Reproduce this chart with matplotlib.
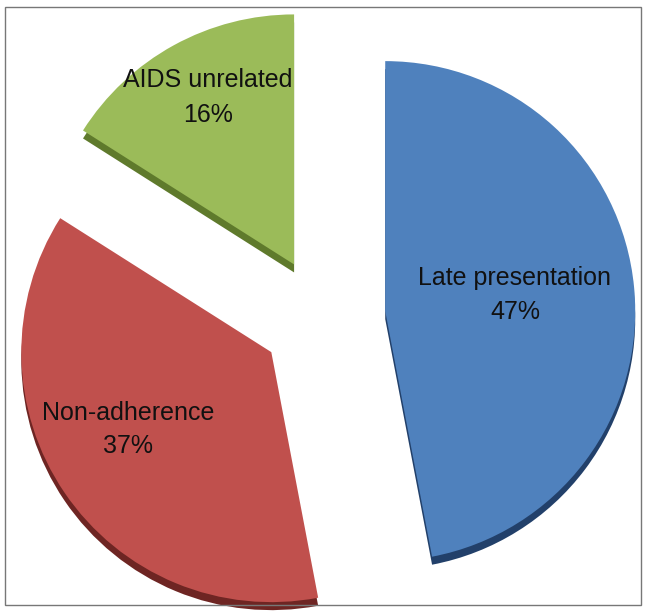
import matplotlib.pyplot as plt
from matplotlib.patches import Rectangle

labels = ["Late presentation", "Non-adherence", "AIDS unrelated"]
shares = [47, 37, 16]
colors = ["#4F81BD", "#C0504D", "#9BBB59"]
side_colors = ["#22406A", "#6E2523", "#5F7A2C"]

W, H = 646, 611
CX, CY = 323, H - 317
R = 250
DEPTH = 8

# matplotlib takes the explode offset in data units here (radius is in pixels)
explode = [0.25 * R, 0.25 * R, 0.24 * R]

fig = plt.figure(figsize=(W / 100, H / 100), dpi=100)
ax = fig.add_axes([0, 0, 1, 1])

# dark "thickness" of the 3D pie, drawn a little lower underneath
ax.pie(shares, colors=side_colors, explode=explode, startangle=90,
       counterclock=False, radius=R, center=(CX, CY - DEPTH),
       wedgeprops=dict(linewidth=0), frame=True)

ax.pie(shares, colors=colors, explode=explode, startangle=90,
       counterclock=False, radius=R, center=(CX, CY),
       wedgeprops=dict(linewidth=0), frame=True)

ax.set_xlim(0, W)
ax.set_ylim(0, H)
ax.axis("off")

font = dict(family="Liberation Sans", fontsize=18, ha="center", va="center", color="#111111")
label_pos = [(515, 278, 312), (128, 413, 446), (208, 80, 115)]
for name, val, (x, y1, y2) in zip(labels, shares, label_pos):
    ax.text(x, H - y1, name, **font)
    ax.text(x, H - y2, f"{val}%", **font)

fig.patches.append(Rectangle((5 / W, 1 - 605 / H), 636 / W, 598 / H,
                             transform=fig.transFigure, fill=False,
                             edgecolor="#777777", linewidth=1))

fig.savefig("out.png", dpi=100, facecolor="white")
